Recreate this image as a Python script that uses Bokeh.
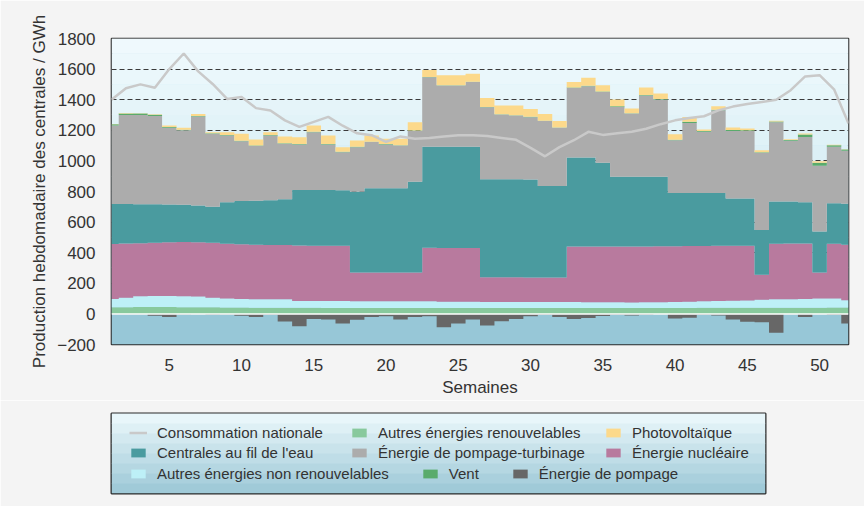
import numpy as np
from bokeh.plotting import figure
from bokeh.layouts import column
from bokeh.models import (ColumnDataSource, Legend, LegendItem, BoxAnnotation,
                          Span, FixedTicker, Range1d)
from bokeh.embed import file_html
from bokeh.resources import INLINE

# ---------------- data (GWh per week) ----------------
weeks = list(range(1, 53))
xticks = [5, 10, 15, 20, 25, 30, 35, 40, 45, 50]
yticks = [-200, 0, 200, 400, 600, 800, 1000, 1200, 1400, 1600, 1800]

autres_renouvelables = [44, 44, 45, 45, 45, 44, 44, 43, 42, 42, 41, 41, 40,
                        40, 40, 39, 39, 38, 38, 38, 38, 38, 38, 38, 38, 38, 38, 38, 38, 38, 38, 38, 38,
                        38, 38, 38, 38, 38, 39, 39, 39, 40, 40, 40, 40,
                        40, 41, 41, 41, 41, 42, 42]
autres_non_renouvelables = [54, 61, 70, 72, 72, 72, 69, 62, 58, 55, 55, 54, 55,
                            45, 45, 45, 45, 45, 44, 44, 44, 44, 44, 42, 42, 42, 40, 40, 40, 40, 40, 40, 40,
                            38, 38, 38, 37, 38, 37, 38, 41, 42, 44, 46, 48,
                            52, 54, 55, 57, 59, 58, 48]
nucleaire = [359, 355, 347, 348, 351, 354, 355, 360, 358, 358, 356, 355, 355,
             362, 361, 361, 361, 188, 188, 188, 188, 189, 350, 350, 350, 350,
             162, 161, 161, 160, 160, 160, 362,
             365, 365, 365, 366, 365, 366, 365, 363, 362, 361, 359, 357,
             164, 363, 364, 362, 171, 358, 362]
fil_de_l_eau = [261, 258, 254, 251, 247, 244, 240, 235, 272, 283, 288, 292, 300,
                363, 364, 365, 363, 528, 551, 551, 551, 593, 660, 662, 662, 662,
                640, 641, 641, 640, 598, 598, 583,
                582, 547, 456, 456, 456, 455, 348, 347, 346, 345, 310, 310,
                293, 276, 274, 270, 267, 265, 268]
pompage_turbinage = [513, 582, 584, 577, 502, 486, 582, 477, 436, 391, 357, 424, 362,
                     298, 378, 298, 249, 291, 302, 287, 280, 332, 454, 401, 401, 424,
                     471, 423, 416, 408, 424, 381, 454,
                     465, 462, 455, 412, 531, 504, 345, 458, 400, 541, 441, 441,
                     504, 519, 397, 427, 430, 369, 346]
vent = [8, 10, 9, 8, 5, 4, 4, 3, 4, 3, 3, 4, 3,
        3, 2, 2, 2, 2, 2, 2, 2, 2, 2, 2, 2, 2, 2, 2, 2, 2, 2, 2, 2,
        3, 3, 6, 3, 3, 3, 3, 8, 5, 4, 6, 5, 4, 5, 6, 15, 20, 10, 8]
photovoltaique = [2, 3, 3, 4, 10, 12, 13, 8, 18, 45, 40, 18, 45, 44, 41, 56, 31, 42, 41, 35,
                  42, 55, 46, 64, 64, 52, 58, 57, 64, 52, 45, 41, 37, 53, 41, 43, 30, 48, 36, 37,
                  31, 10, 22, 16, 11, 13, 4, 4, 7, 10, 3, 2]
energie_pompage = [-2, -2, -3, -12, -20, -4, -2, -6, -4, -12,
                   -20, -5, -50, -80, -33, -36, -63, -38, -20, -15,
                   -36, -20, -15, -88, -63, -36, -76, -48, -33, -15,
                   -6, -20, -33, -27, -13, -5, -10, -5, -2, -30,
                   -25, -5, -10, -37, -52, -55, -124, -2, -20, -2,
                   -8, -63]
consommation = [1400, 1475, 1500, 1478, 1600, 1702, 1585, 1503, 1405, 1418,
                1345, 1330, 1265, 1222, 1255, 1288, 1230, 1180, 1168, 1125,
                1160, 1145, 1150, 1160, 1168, 1168, 1162, 1150, 1138, 1085,
                1030, 1090, 1135, 1190, 1170, 1180, 1190, 1210, 1240, 1265,
                1280, 1292, 1330, 1355, 1372, 1385, 1400, 1462, 1552, 1560,
                1468, 1245]

layers = [
    ("Autres énergies renouvelables", autres_renouvelables, "#88c99d"),
    ("Autres énergies non renouvelables", autres_non_renouvelables, "#bdf0f7"),
    ("Énergie nucléaire", nucleaire, "#b87a9e"),
    ("Centrales au fil de l'eau", fil_de_l_eau, "#4a9b9f"),
    ("Énergie de pompage-turbinage", pompage_turbinage, "#acacac"),
    ("Vent", vent, "#5aab6c"),
    ("Photovoltaïque", photovoltaique, "#fcd98b"),
]
pompage_color = "#676767"
conso_color = "#c9c9c9"

FONT = "Liberation Sans"
TXT = "#333333"
OUTER = "#f4f4f4"

# ---------------- shared source ----------------
data = {"week": weeks}
base = np.zeros(len(weeks))
for i, (name, vals, col) in enumerate(layers):
    top = base + np.array(vals, dtype=float)
    data["b%d" % i] = base.copy()
    data["t%d" % i] = top.copy()
    base = top
data["neg"] = energie_pompage
data["zero"] = [0] * len(weeks)
data["conso"] = consommation
src = ColumnDataSource(data)


def draw_series(fig, line_width=2.5):
    rs = {}
    for i, (name, vals, col) in enumerate(layers):
        rs[name] = fig.varea_step(x="week", y1="b%d" % i, y2="t%d" % i, step_mode="center",
                                  source=src, fill_color=col, fill_alpha=1)
    rs["Énergie de pompage"] = fig.varea_step(x="week", y1="zero", y2="neg", step_mode="center",
                                              source=src, fill_color=pompage_color, fill_alpha=1)
    rs["Consommation nationale"] = fig.line(x="week", y="conso", source=src,
                                            line_color=conso_color, line_width=line_width)
    return rs


# ---------------- main chart ----------------
p = figure(width=864, height=400, output_backend="svg", toolbar_location=None,
           x_range=Range1d(1, 52), y_range=Range1d(-200, 1800),
           min_border_left=111, min_border_right=16, min_border_top=38,
           min_border_bottom=56)
p.frame_align = False
p.border_fill_color = OUTER
p.background_fill_color = "#c8e8f2"
p.outline_line_color = "#2a2a2a"
p.outline_line_width = 1.6

grad_top = np.array([240, 250, 253])
grad_bot = np.array([168, 214, 228])
for lo in range(0, 1800, 100):
    t = ((lo + 50) / 1800.0) ** 0.6
    c = grad_bot + (grad_top - grad_bot) * t
    col = "#%02x%02x%02x" % tuple(int(round(v)) for v in c)
    p.add_layout(BoxAnnotation(bottom=lo, top=lo + 101, fill_color=col, fill_alpha=1,
                               line_alpha=0, level="image"))
p.add_layout(BoxAnnotation(bottom=-200, top=0, fill_color="#97c7d7", fill_alpha=1,
                           line_alpha=0, level="image"))

draw_series(p)
p.add_layout(Span(location=0, dimension="width", line_color="white", line_width=1.5))

p.xgrid.grid_line_color = None
p.ygrid.grid_line_color = "#3a3a3a"
p.ygrid.grid_line_dash = "5 3"
p.ygrid.grid_line_width = 1
p.ygrid.level = "underlay"

p.xaxis.ticker = FixedTicker(ticks=xticks)
p.yaxis.ticker = FixedTicker(ticks=yticks)
for ax in (p.xaxis[0], p.yaxis[0]):
    ax.axis_line_color = None
    ax.major_tick_line_color = None
    ax.minor_tick_line_color = None
    ax.major_label_text_font = FONT
    ax.major_label_text_font_size = "17px"
    ax.major_label_text_color = TXT
    ax.axis_label_text_font = FONT
    ax.axis_label_text_font_size = "17px"
    ax.axis_label_text_font_style = "normal"
    ax.axis_label_text_color = TXT
p.xaxis.axis_label = "Semaines"
p.yaxis.axis_label = "Production hebdomadaire des centrales / GWh"
p.xaxis.major_label_standoff = 8
p.yaxis.major_label_standoff = 10
p.xaxis.axis_label_standoff = 4
p.yaxis.axis_label_standoff = 5

# ---------------- legend panel ----------------
q = figure(width=864, height=106, output_backend="svg", toolbar_location=None,
           x_range=Range1d(-3, -2), y_range=Range1d(-1000, -900),
           x_axis_location=None, y_axis_location=None,
           min_border_left=111, min_border_right=99, min_border_top=13,
           min_border_bottom=13)
q.frame_align = False
q.border_fill_color = OUTER
q.background_fill_color = "#c9e5ee"
q.outline_line_color = "#2a2a2a"
q.outline_line_width = 2
q.grid.grid_line_color = None
for k in range(8):
    lo = -1000 + k * 12.5
    t = k / 7.0
    c = np.array([160, 202, 216]) + (np.array([232, 246, 250]) - np.array([160, 202, 216])) * t
    col = "#%02x%02x%02x" % tuple(int(round(v)) for v in c)
    q.add_layout(BoxAnnotation(bottom=lo, top=lo + 13, fill_color=col, fill_alpha=1,
                               line_alpha=0, level="image"))
qr = draw_series(q)


def make_legend(names, loc, orientation, spacing):
    lg = Legend(items=[LegendItem(label=n, renderers=[qr[n]]) for n in names],
                location=loc, orientation=orientation)
    lg.label_text_font = FONT
    lg.label_text_font_size = "15px"
    lg.label_text_color = TXT
    lg.border_line_alpha = 0
    lg.background_fill_alpha = 0
    lg.glyph_width = 18
    lg.glyph_height = 11
    lg.label_standoff = 10
    lg.label_height = 18
    lg.spacing = spacing
    lg.padding = 0
    lg.margin = 0
    q.add_layout(lg, "center")
    return lg


make_legend(["Consommation nationale", "Centrales au fil de l'eau"], (18, 32), "vertical", 2)
make_legend(["Autres énergies renouvelables", "Énergie de pompage-turbinage"], (239, 32), "vertical", 2)
make_legend(["Photovoltaïque", "Énergie nucléaire"], (493, 32), "vertical", 2)
make_legend(["Autres énergies non renouvelables", "Vent", "Énergie de pompage"], (18, 11),
            "horizontal", 32)

layout = column(p, q, spacing=0)
open("out.html", "w").write(file_html(layout, INLINE))
